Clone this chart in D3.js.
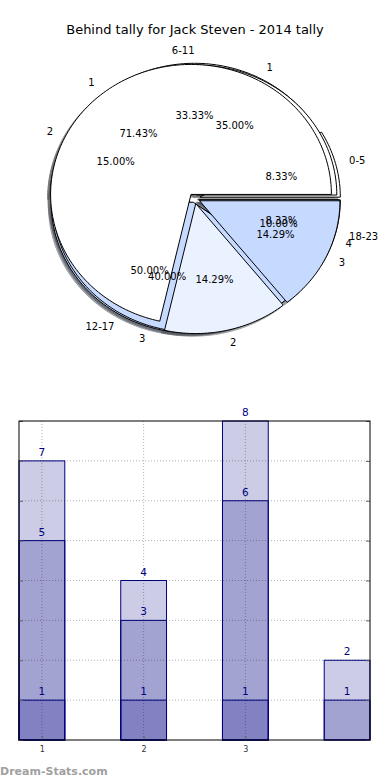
<!DOCTYPE html>
<html>
<head>
<meta charset="utf-8">
<script src="https://cdn.jsdelivr.net/npm/d3@7"></script>
<style>
body { margin: 0; background: #fff; }
text { font-family: "DejaVu Sans", sans-serif; }
</style>
</head>
<body>
<div id="chart"></div>
<script>
// pie data - three pies drawn on top of each other
const hourBands = ["0-5", "6-11", "12-17", "18-23"];
const pieA = [1, 4, 6, 1];
const pieB = [7, 3, 8, 2];
const pieBLabels = ["1", "2", "3", "4"];
const pieC = [5, 1, 1];
const pieCLabels = ["1", "2", "3"];
const pieColors = ["#ffffff", "#eaf1ff", "#c6d9ff", "#a9c4f5"];

// bar data - overlapping bars, one layer per series
const barGroups = [1, 2, 3, 4];
const xTicks = [1, 2, 3];
const barBack = [7, 4, 8, 2];
const barMid = [5, 3, 6, 1];
const barFront = [1, 1, 1, 0];

const svgWidth = 390, svgHeight = 780;
const svg = d3.select("#chart").append("svg")
    .attr("width", svgWidth)
    .attr("height", svgHeight);

svg.append("text")
    .attr("x", 195).attr("y", 34)
    .attr("text-anchor", "middle")
    .attr("font-size", 13)
    .text("Behind tally for Jack Steven - 2014 tally");

// ---------- pie ----------
const px = d3.scaleLinear().domain([-1.25, 1.25]).range([19, 370]);
const py = d3.scaleLinear().domain([-1.25, 1.25]).range([361, 36]);

function wedges(values, explode) {
    const total = d3.sum(values);
    let t = 0;
    return values.map((v, i) => {
        const t1 = t, t2 = t + v / total;
        t = t2;
        const mid = Math.PI * (t1 + t2);
        return { i, v, frac: v / total, t1, t2, mid,
            ox: explode * Math.cos(mid), oy: explode * Math.sin(mid) };
    });
}

function wedgePath(d, sx, sy) {
    const n = Math.max(4, Math.ceil((d.t2 - d.t1) * 240));
    const pts = [[d.ox, d.oy]];
    for (let k = 0; k <= n; k++) {
        const a = 2 * Math.PI * (d.t1 + (d.t2 - d.t1) * k / n);
        pts.push([d.ox + Math.cos(a), d.oy + Math.sin(a)]);
    }
    return d3.line()
        .x(p => px(p[0] + sx))
        .y(p => py(p[1] + sy))(pts) + "Z";
}

const pies = [
    { data: wedges(pieA, 0.04), labels: hourBands },
    { data: wedges(pieB, 0.03), labels: pieBLabels },
    { data: wedges(pieC, 0.04), labels: pieCLabels }
];

function shade(c) {
    const r = d3.rgb(c);
    return d3.rgb(r.r * 0.3, r.g * 0.3, r.b * 0.3).toString();
}

// shadows sit under every wedge
const shadowLayer = svg.append("g");
const wedgeLayer = svg.append("g");
const textLayer = svg.append("g").attr("font-size", 10);

pies.forEach(p => {
    shadowLayer.selectAll(null)
        .data(p.data)
        .join("path")
        .attr("d", d => wedgePath(d, -0.02, -0.02))
        .attr("fill", d => shade(pieColors[d.i]))
        .attr("stroke", d => shade(pieColors[d.i]))
        .attr("opacity", 0.5);
});

pies.forEach(p => {
    wedgeLayer.selectAll(null)
        .data(p.data)
        .join("path")
        .attr("d", d => wedgePath(d, 0, 0))
        .attr("fill", d => pieColors[d.i])
        .attr("stroke", "#000")
        .attr("stroke-width", 1)
        .attr("stroke-linejoin", "round");
});

pies.forEach(p => {
    p.data.forEach(d => {
        const xt = d.ox + 1.1 * Math.cos(d.mid),
            yt = d.oy + 1.1 * Math.sin(d.mid);
        textLayer.append("text")
            .attr("x", px(xt)).attr("y", py(yt))
            .attr("dy", "0.35em")
            .attr("text-anchor", xt > 1e-6 ? "start" : "end")
            .text(p.labels[d.i]);
        textLayer.append("text")
            .attr("x", px(d.ox + 0.6 * Math.cos(d.mid)))
            .attr("y", py(d.oy + 0.6 * Math.sin(d.mid)))
            .attr("dy", "0.35em")
            .attr("text-anchor", "middle")
            .text((d.frac * 100).toFixed(2) + "%");
    });
});

// ---------- bars ----------
const barW = 0.45;
const bx = d3.scaleLinear().domain([1 - barW / 2, 4 + barW / 2]).range([19, 370]);
const by = d3.scaleLinear().domain([0, 8]).range([740, 421]);

const barLayer = svg.append("g");
[barBack, barMid, barFront].forEach(series => {
    const rows = barGroups.map((g, i) => ({ g, v: series[i] }));
    barLayer.selectAll(null)
        .data(rows)
        .join("rect")
        .attr("x", d => bx(d.g - barW / 2))
        .attr("width", d => bx(d.g + barW / 2) - bx(d.g - barW / 2))
        .attr("y", d => by(d.v))
        .attr("height", d => by(0) - by(d.v))
        .attr("fill", "#000080")
        .attr("fill-opacity", 0.2)
        .attr("stroke", "#000080")
        .attr("stroke-width", 1);
});

// grid over the bars
const grid = svg.append("g")
    .attr("stroke", "#000")
    .attr("stroke-opacity", 0.3)
    .attr("stroke-dasharray", "1,2");
grid.selectAll(null)
    .data(d3.range(1, 8))
    .join("line")
    .attr("x1", 19).attr("x2", 370)
    .attr("y1", d => by(d)).attr("y2", d => by(d));
grid.selectAll(null)
    .data(xTicks)
    .join("line")
    .attr("x1", d => bx(d)).attr("x2", d => bx(d))
    .attr("y1", 421).attr("y2", 740);

// inward ticks on all four sides
const tickLen = 4;
svg.append("g")
    .attr("transform", "translate(19,0)")
    .call(d3.axisLeft(by).ticks(8).tickSize(-tickLen).tickFormat(""))
    .call(g => g.select(".domain").remove())
    .selectAll("line").attr("stroke", "#666");
svg.append("g")
    .attr("transform", "translate(370,0)")
    .call(d3.axisRight(by).ticks(8).tickSize(-tickLen).tickFormat(""))
    .call(g => g.select(".domain").remove())
    .selectAll("line").attr("stroke", "#666");
const xAxis = svg.append("g")
    .attr("transform", "translate(0,740)")
    .call(d3.axisBottom(bx).tickValues(xTicks).tickSize(-tickLen).tickPadding(6)
        .tickFormat(d3.format("d")));
xAxis.select(".domain").remove();
xAxis.selectAll("line").attr("stroke", "#666");
xAxis.selectAll("text")
    .attr("font-family", "DejaVu Sans")
    .attr("font-size", 8)
    .attr("fill", "#333");

svg.append("rect")
    .attr("x", 19).attr("y", 421)
    .attr("width", 351).attr("height", 319)
    .attr("fill", "none")
    .attr("stroke", "#000");

// value labels above each bar top
[barBack, barMid, barFront].forEach(series => {
    const rows = barGroups.map((g, i) => ({ g, v: series[i] })).filter(d => d.v > 0);
    svg.append("g").selectAll("text")
        .data(rows)
        .join("text")
        .attr("x", d => bx(d.g))
        .attr("y", d => by(d.v) - 5)
        .attr("text-anchor", "middle")
        .attr("font-size", 10.5)
        .attr("fill", "#000080")
        .text(d => d.v);
});

svg.append("text")
    .attr("x", 0).attr("y", 775)
    .attr("font-size", 11)
    .attr("font-weight", "bold")
    .attr("fill", "#a0a0a0")
    .text("Dream-Stats.com");
</script>
</body>
</html>
